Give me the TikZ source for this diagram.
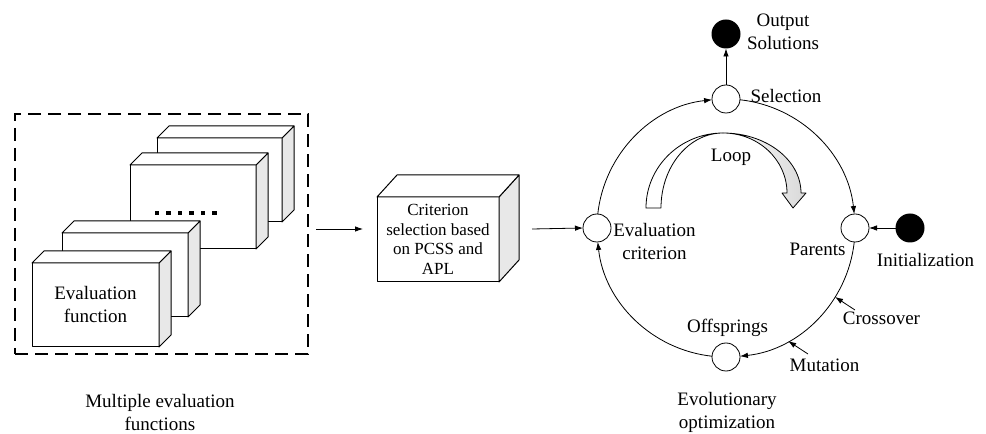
\documentclass[tikz,border=0pt]{standalone}
\usepackage{fontspec}
\setmainfont{Liberation Serif}
\usetikzlibrary{arrows.meta}
\newcommand\cubefaces[3]{%
  \draw[sideface] (#1.north east) -- ++(#2,#3) -- ([shift={(#2,#3)}]#1.south east) -- (#1.south east) -- cycle;
  \draw[topface] (#1.north west) -- ++(#2,#3) -- ([shift={(#2,#3)}]#1.north east) -- (#1.north east) -- cycle;}
\begin{document}
\begin{tikzpicture}[x=1pt,y=1pt,
  lbl/.style={font=\fontsize{19}{23}\selectfont, inner sep=0pt, align=center},
  face/.style={draw, fill=white, line width=1pt, inner sep=0pt, outer sep=0pt, line join=round},
  sideface/.style={draw, fill=gray!18, line width=1pt, line join=round},
  topface/.style={draw, fill=white, line width=1pt, line join=round},
  conn/.style={draw, line width=0.8pt, -{Latex[length=8pt,width=5.5pt]}},
  state/.style={circle, draw, fill=white, line width=0.8pt, minimum size=28pt, inner sep=0pt, outer sep=0pt},
  term/.style={circle, fill=black, minimum size=29pt, inner sep=0pt, outer sep=0pt},
]
\useasboundingbox (0,0) rectangle (986,434);

% dashed group
\node[draw, line width=2pt, dash pattern=on 13pt off 7pt, minimum width=293pt, minimum height=240pt, inner sep=0pt, outer sep=0pt] (mef) at (161.5,200) {};

% stacked evaluation function boxes
\node[face, minimum width=125pt, minimum height=84pt] (bA) at (219.5,254) {};
\cubefaces{bA}{12}{12}
\node[face, minimum width=126pt, minimum height=84pt] (bB) at (193,227) {};
\cubefaces{bB}{12}{12}
\foreach \xx in {157,168.5,180,191.5,203,214.5}{\fill (\xx-2.3,218.7) rectangle (\xx+2.3,223.3);}
\node[face, minimum width=126pt, minimum height=84pt] (bC) at (125,159) {};
\cubefaces{bC}{12}{12}
\node[face, minimum width=127pt, minimum height=84pt, lbl] (bD) at (95.5,129) {Evaluation\\function};
\cubefaces{bD}{12}{12}

\node[lbl] (mefl) at (160,21.5) {Multiple evaluation\\functions};

% criterion box
\node[face, minimum width=122pt, minimum height=85pt, align=center, font=\fontsize{17}{19.5}\selectfont] (crit) at (438,194.5) {Criterion\\selection based\\on PCSS and\\APL};
\cubefaces{crit}{20}{22}

\coordinate (a1s) at (316,205);
\coordinate (a1e) at (363,205);
\draw[conn] (a1s) -- (a1e);

% evolutionary loop
\coordinate (ring) at (726,206);
\node[state] (eval) at (597,206) {};
\node[state] (sel) at (726,335) {};
\node[state] (par) at (855,206) {};
\node[state] (off) at (726,77) {};
\node[term] (outs) at (726,400) {};
\node[term] (init) at (910,206) {};

\coordinate (a2s) at (532,205);
\draw[conn] (a2s) -- (eval.west);

\draw[conn] ([shift={(173.8:129)}]ring) arc[start angle=173.8, end angle=96.2, radius=129];
\draw[conn] ([shift={(83.8:129)}]ring) arc[start angle=83.8, end angle=6.2, radius=129];
\draw[conn] ([shift={(-6.2:129)}]ring) arc[start angle=-6.2, end angle=-83.8, radius=129];
\draw[conn] ([shift={(-96.2:129)}]ring) arc[start angle=-96.2, end angle=-173.8, radius=129];

\draw[conn] (sel.north) -- (outs.south);
\draw[conn] (init.west) -- (par.east);

\coordinate (cxs) at (855,124);
\coordinate (mus) at (808,80);
\draw[conn] (cxs) -- ([shift={(-32.3:129)}]ring);
\draw[conn] (mus) -- ([shift={(-61.2:129)}]ring);

% loop arrow
\draw[line width=0.8pt, fill=white, line join=round] (646,226) arc[start angle=180, end angle=90, x radius=77, y radius=75] arc[start angle=90, end angle=180, x radius=62, y radius=75] -- cycle;
\path[draw, line width=0.8pt, line join=round, left color=white, right color=gray!30] (723,301) arc[start angle=90, end angle=0, x radius=78, y radius=60] -- (806,241) -- (793,226) -- (782,241) -- (787,241) arc[start angle=0, end angle=90, x radius=64, y radius=60] -- cycle;

% labels
\node[lbl] (loopl) at (731,277) {Loop};
\node[lbl] (outl) at (783,402.5) {Output\\Solutions};
\node[lbl] (sell) at (786,338) {Selection};
\node[lbl] (evall) at (654.5,192.5) {Evaluation\\criterion};
\node[lbl] (parl) at (817.5,185) {Parents};
\node[lbl] (initl) at (925.5,174) {Initialization};
\node[lbl] (crossl) at (881.5,116) {Crossover};
\node[lbl] (mutl) at (824.5,69) {Mutation};
\node[lbl] (offl) at (727.5,106) {Offsprings};
\node[lbl] (evol) at (727,22) {Evolutionary\\optimization};
\end{tikzpicture}
\end{document}
